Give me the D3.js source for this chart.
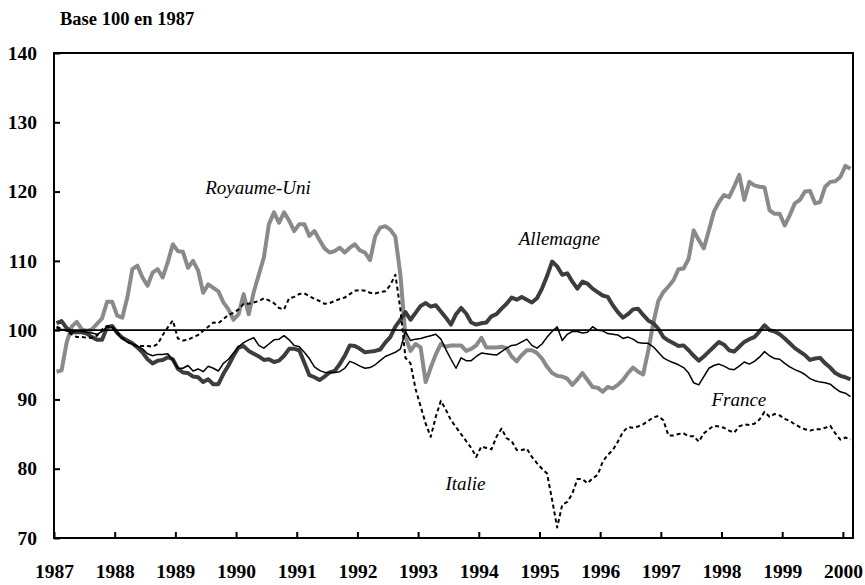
<!DOCTYPE html>
<html>
<head>
<meta charset="utf-8">
<script src="https://cdn.jsdelivr.net/npm/d3@7"></script>
<style>
body { margin: 0; background: #fff; }
text { font-family: "Liberation Serif", "Times New Roman", serif; }
</style>
</head>
<body>
<div id="chart"></div>
<script>
// monthly index values, base 100 = 1987, Jan 1987 .. Feb 2000
var years = [1987, 1988, 1989, 1990, 1991, 1992, 1993, 1994, 1995, 1996, 1997, 1998, 1999, 2000];
var yTicks = [70, 80, 90, 100, 110, 120, 130, 140];

var ukValues = [
 94.0, 94.2, 98.2, 100.5, 101.2, 100.1, 99.9, 100.1, 100.9, 101.7,
 104.1, 104.1, 102.1, 101.8, 104.7, 108.8, 109.3, 107.6, 106.4, 108.3,
 108.8, 107.6, 109.8, 112.4, 111.4, 111.3, 109.0, 110.0, 108.6, 105.4,
 106.6, 106.1, 105.6, 104.0, 103.0, 101.5, 102.3, 105.2, 102.3, 105.5,
 108.0, 110.5, 115.3, 117.0, 115.5, 117.0, 115.8, 114.3, 115.3, 115.3,
 113.6, 114.3, 113.0, 111.8, 111.2, 111.4, 111.9, 111.2, 111.9, 112.4,
 111.5, 111.2, 110.1, 113.5, 114.8, 115.0, 114.5, 113.5, 108.0, 99.0,
 97.0, 98.0, 97.5, 92.5, 94.6, 96.5, 98.0, 97.6, 97.8, 97.8,
 97.8, 97.0, 97.3, 97.8, 98.9, 97.5, 97.5, 97.5, 97.6, 97.4,
 96.2, 95.5, 96.4, 97.1, 97.1, 96.7, 95.9, 94.7, 93.8, 93.4,
 93.3, 93.0, 92.1, 92.9, 93.8, 92.8, 91.8, 91.7, 91.1, 91.8,
 91.6, 92.1, 92.8, 93.8, 94.6, 94.0, 93.6, 97.0, 101.0, 104.2,
 105.5, 106.3, 107.2, 108.8, 108.9, 110.3, 114.4, 113.0, 111.8, 114.4,
 117.1, 118.5, 119.5, 119.2, 120.7, 122.4, 118.8, 121.4, 120.9, 120.7,
 120.6, 117.3, 116.8, 116.8, 115.1, 116.6, 118.3, 118.8, 120.0, 120.1,
 118.3, 118.5, 120.7, 121.4, 121.5, 122.1, 123.7, 123.3
];

var deValues = [
 101.0, 101.3, 100.3, 99.7, 99.7, 99.7, 99.5, 99.0, 98.6, 98.6,
 100.4, 100.6, 99.6, 98.9, 98.5, 98.1, 97.5, 96.8, 95.8, 95.2,
 95.6, 95.7, 96.1, 95.8, 94.4, 93.9, 93.8, 93.3, 93.2, 92.5,
 92.9, 92.2, 92.2, 93.7, 94.9, 96.3, 97.5, 97.7, 97.0, 96.6,
 96.2, 95.7, 95.8, 95.4, 95.6, 96.3, 97.3, 97.3, 97.1, 95.3,
 93.5, 93.2, 92.8, 93.3, 93.9, 94.1, 95.1, 96.3, 97.8, 97.7,
 97.3, 96.8, 96.9, 97.0, 97.2, 98.2, 99.0, 100.5, 101.5, 102.6,
 101.5, 102.5, 103.5, 103.9, 103.4, 103.6, 102.7, 101.8, 100.8, 102.3,
 103.2, 102.4, 101.1, 100.8, 101.0, 101.1, 102.0, 102.3, 103.1, 103.8,
 104.7, 104.4, 104.8, 104.4, 104.0, 104.6, 106.0, 107.8, 109.9, 109.2,
 108.0, 108.2, 107.0, 106.0, 107.0, 106.7, 106.0, 105.5, 105.0, 104.8,
 103.6, 102.6, 101.8, 102.3, 103.0, 103.1, 102.2, 101.4, 101.0, 100.2,
 99.0, 98.5, 98.1, 97.7, 97.8, 97.1, 96.3, 95.6, 96.2, 96.9,
 97.6, 98.3, 97.9, 97.1, 96.9, 97.6, 98.3, 98.7, 99.0, 99.8,
 100.7, 100.0, 99.8, 99.4, 98.8, 98.1, 97.4, 96.9, 96.4, 95.7,
 95.9, 96.0, 95.2, 94.6, 93.8, 93.4, 93.2, 92.9
];

var frValues = [
 100.3, 100.1, 99.9, 99.7, 99.9, 99.8, 99.7, 99.6, 99.4, 99.8,
 100.5, 100.4, 99.5, 98.8, 98.3, 98.0, 97.7, 97.3, 96.6, 96.3,
 96.5, 96.5, 96.6, 95.7, 94.5, 94.5, 94.9, 94.1, 94.4, 94.0,
 94.8, 94.5, 94.1, 95.2, 95.8, 96.7, 97.6, 98.2, 98.6, 98.9,
 97.8, 97.4, 98.0, 98.6, 98.7, 99.2, 98.6, 97.8, 97.6, 96.8,
 95.9, 94.7, 94.2, 93.9, 93.9, 93.9, 94.0, 94.5, 95.5, 95.2,
 94.8, 94.5, 94.6, 95.0, 95.6, 96.2, 96.5, 96.8, 97.3, 99.8,
 98.5, 98.7, 98.8, 99.0, 99.2, 99.4, 98.7, 97.2, 95.8, 94.5,
 96.0, 95.6, 95.6, 96.2, 96.7, 96.6, 96.5, 96.4, 96.9, 97.4,
 97.8, 97.9, 98.3, 98.7, 97.8, 97.4, 98.0, 99.0, 99.8, 100.5,
 98.5, 99.4, 99.8, 99.8, 99.6, 99.7, 100.5, 100.0, 99.9, 99.5,
 99.4, 99.3, 98.8, 99.0, 98.7, 98.2, 98.1, 98.1, 97.6, 96.8,
 96.0, 95.6, 95.3, 95.0, 94.6, 93.8, 92.4, 92.1, 93.3, 94.5,
 94.9, 95.1, 94.8, 94.4, 94.3, 94.8, 95.4, 95.1, 95.5, 96.1,
 96.9, 96.3, 95.9, 95.8, 95.2, 94.7, 94.3, 94.0, 93.6, 93.0,
 92.7, 92.5, 92.4, 92.2, 91.6, 91.1, 90.9, 90.4
];

var itValues = [
 100.5, 100.2, 99.9, 99.4, 99.0, 99.0, 98.9, 98.9, 99.2, 100.1,
 100.6, 100.5, 99.7, 98.9, 98.3, 97.9, 97.7, 97.7, 97.7, 97.6,
 98.0, 99.3, 100.4, 101.4, 98.8, 98.5, 98.6, 99.0, 99.3, 99.9,
 100.5, 101.1, 101.0, 101.6, 102.2, 102.5, 103.0, 103.8, 103.8, 104.0,
 104.2, 104.6, 104.3, 103.9, 103.2, 103.0, 104.6, 104.8, 105.2, 105.3,
 104.9, 104.5, 104.2, 103.8, 103.9, 104.2, 104.5, 104.7, 105.2, 105.7,
 105.8, 105.7, 105.4, 105.3, 105.5, 105.6, 106.5, 108.0, 103.0, 96.0,
 95.2, 91.5, 89.0, 86.5, 84.6, 87.5, 89.8, 88.5, 87.0, 86.0,
 85.0, 84.0, 83.0, 81.7, 83.2, 83.0, 82.8, 84.6, 85.8, 84.4,
 84.0, 82.7, 82.7, 82.9, 81.7, 80.8, 80.0, 79.3, 75.5, 71.5,
 74.8, 75.2, 76.4, 78.5, 78.5, 77.9, 78.6, 79.1, 81.0, 82.0,
 82.7, 83.9, 85.3, 86.0, 85.9, 86.1, 86.4, 86.9, 87.4, 87.6,
 87.0, 84.8, 84.8, 85.0, 85.1, 84.7, 84.7, 83.9, 85.1, 85.7,
 86.2, 86.1, 85.9, 85.5, 85.2, 86.1, 86.4, 86.3, 86.5, 87.1,
 88.2, 87.5, 87.9, 87.7, 87.2, 86.9, 86.4, 86.0, 85.7, 85.5,
 85.7, 85.7, 85.9, 86.2, 85.1, 84.2, 84.5, 84.2
];

// series labels, anchored in data units (month index, index value)
var labelNames  = ["Royaume-Uni", "Allemagne", "France", "Italie"];
var labelMonths = [29.9, 91.9, 130.0, 77.4];
var labelValues = [119.7, 112.3, 89.1, 77.0];

var IndexChart = function(target){
	this.target = target;
	this.width = 865;
	this.height = 585;
	this.setupSVG();
	this.renderAxes();
	this.renderLines();
	this.renderLabels();
};

IndexChart.prototype.setupSVG = function(){
	var nMonths = ukValues.length;
	this.x = d3.scaleLinear().domain([0, nMonths]).range([54, 853]);
	this.y = d3.scaleLinear().domain([70, 140]).range([538, 53]);
	this.svg = d3.select("#" + this.target).append("svg")
		.attr("width", this.width)
		.attr("height", this.height);
};

IndexChart.prototype.renderAxes = function(){
	var self = this;
	var xAxis = d3.axisBottom(this.x)
		.tickValues(years.map(function(d, i){ return i * 12; }))
		.tickFormat(function(d){ return years[d / 12]; })
		.tickSizeInner(-6).tickSizeOuter(0).tickPadding(26);
	var yAxis = d3.axisLeft(this.y)
		.tickValues(yTicks)
		.tickSizeInner(-6).tickSizeOuter(0).tickPadding(17);

	var gx = this.svg.append("g")
		.attr("class", "x axis")
		.attr("transform", "translate(0," + this.y(70) + ")")
		.call(xAxis);
	var gy = this.svg.append("g")
		.attr("class", "y axis")
		.attr("transform", "translate(" + this.x(0) + ",0)")
		.call(yAxis);

	[gx, gy].forEach(function(g){
		g.select(".domain").remove();
		g.selectAll(".tick line").attr("stroke", "#000").attr("stroke-width", 2);
		g.selectAll(".tick text")
			.attr("fill", "#000")
			.style("font-size", "19.5px")
			.style("font-weight", "bold");
	});

	this.svg.append("text")
		.attr("x", 60).attr("y", 25)
		.style("font-size", "18.5px")
		.style("font-weight", "bold")
		.text("Base 100 en 1987");

	// frame
	this.svg.append("rect")
		.attr("x", this.x(0)).attr("y", this.y(140))
		.attr("width", this.x.range()[1] - this.x(0))
		.attr("height", this.y(70) - this.y(140))
		.attr("fill", "none").attr("stroke", "#000").attr("stroke-width", 2);
};

IndexChart.prototype.renderLines = function(){
	var self = this;
	var line = d3.line()
		.x(function(d, i){ return self.x(i + 0.5); })
		.y(function(d){ return self.y(d); });

	var series = [
		{values: ukValues, color: "#8a8a8a", width: 4, dash: null},
		{values: deValues, color: "#3d3d3d", width: 4, dash: null},
		{values: frValues, color: "#000",    width: 1.5, dash: null},
		{values: itValues, color: "#000",    width: 2, dash: "4,3"}
	];

	this.svg.append("g").selectAll("path")
		.data(series)
		.enter().append("path")
		.attr("d", function(d){ return line(d.values); })
		.attr("fill", "none")
		.attr("stroke", function(d){ return d.color; })
		.attr("stroke-width", function(d){ return d.width; })
		.attr("stroke-linejoin", "round")
		.attr("stroke-dasharray", function(d){ return d.dash; });

	// base 100 reference line
	this.svg.append("line")
		.attr("x1", this.x(0)).attr("x2", this.x.range()[1])
		.attr("y1", this.y(100)).attr("y2", this.y(100))
		.attr("stroke", "#000").attr("stroke-width", 1.6);
};

IndexChart.prototype.renderLabels = function(){
	var self = this;
	this.svg.append("g").selectAll("text")
		.data(labelNames)
		.enter().append("text")
		.attr("x", function(d, i){ return self.x(labelMonths[i]); })
		.attr("y", function(d, i){ return self.y(labelValues[i]); })
		.style("font-size", "19px")
		.style("font-style", "italic")
		.text(function(d){ return d; });
};

var chart = new IndexChart("chart");
</script>
</body>
</html>
